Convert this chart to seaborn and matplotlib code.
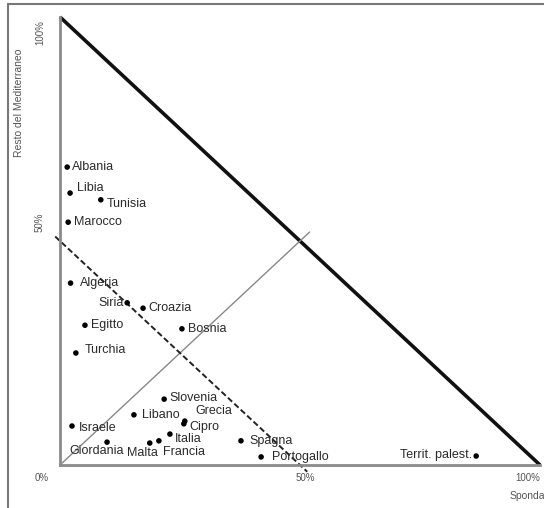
"""
Sponda vs resto del Mediterraneo: scatter dei paesi con diagonali di riferimento.
"""
import matplotlib
matplotlib.use("Agg")
import matplotlib.pyplot as plt
import seaborn as sns

# Quote (%)
countries = ["Albania", "Libia", "Tunisia", "Marocco", "Algeria", "Siria", "Croazia",
             "Egitto", "Bosnia", "Turchia", "Slovenia", "Libano", "Grecia", "Cipro",
             "Israele", "Italia", "Giordania", "Malta", "Francia", "Spagna",
             "Portogallo", "Territ. palest."]
sponda = [1.5, 2.1, 8.5, 1.7, 2.2, 14.0, 17.3, 5.2, 25.4, 3.3, 21.7, 15.4, 26.0, 25.8,
          2.5, 22.9, 9.8, 18.7, 20.6, 37.7, 41.9, 86.7]
resto_med = [66.5, 60.7, 59.2, 54.2, 40.6, 36.2, 35.0, 31.2, 30.4, 25.0, 14.7, 11.2, 9.8,
             9.2, 8.7, 6.9, 5.1, 4.9, 5.4, 5.4, 1.8, 2.0]

# linee di riferimento
limit_x, limit_y = [0, 100], [100, 0]          # sponda + resto = 100%
equal_x, equal_y = [0, 52], [0, 52]            # sponda = resto
half_x, half_y = [-1, 51.5], [51, -1.5]        # sponda + resto = 50%

x_tick_labels = ["0%", "50%", "100%"]
y_tick_labels = ["50%", "100%"]

# posizione delle etichette (offset in pixel, allineamento)
label_style = {
    "Albania": (5, 0, "left"), "Libia": (7, 5, "left"), "Tunisia": (6, -4, "left"),
    "Marocco": (6, 0, "left"), "Algeria": (9, 0, "left"), "Siria": (-3, 0, "right"),
    "Croazia": (5, 0, "left"), "Egitto": (6, 0, "left"), "Bosnia": (6, 0, "left"),
    "Turchia": (9, 3, "left"), "Slovenia": (5, 1, "left"), "Libano": (8, 0, "left"),
    "Grecia": (11, 10, "left"), "Cipro": (6, -3, "left"), "Israele": (7, -2, "left"),
    "Italia": (5, -5, "left"), "Giordania": (-10, -9, "center"),
    "Malta": (-7, -10, "center"), "Francia": (4, -11, "left"),
    "Spagna": (8, 0, "left"), "Portogallo": (11, 0, "left"),
    "Territ. palest.": (-4, 1, "right"),
}
# posizione (dati) delle etichette degli assi
x_label_pos = [(-3.8, -3), (51, -3), (97.5, -3)]
y_label_pos = [(-4.2, 54.2), (-4.2, 96.6)]

sns.set_style("white")
plt.rcParams["font.family"] = ["Liberation Sans", "DejaVu Sans"]

fig = plt.figure(figsize=(5.44, 5.08), dpi=100)
ax = fig.add_axes([60 / 544, 43 / 508, 480 / 544, 448 / 508])

# cornice dell'immagine (sinistra e alto)
fig.add_artist(plt.Line2D([8 / 544, 8 / 544], [0, 1 - 4 / 508], color="#777777", lw=1.5))
fig.add_artist(plt.Line2D([8 / 544, 1], [1 - 4 / 508, 1 - 4 / 508], color="#777777", lw=1.5))

ax.plot(limit_x, limit_y, color="#111111", lw=2.6, clip_on=False, solid_capstyle="butt")
ax.plot(equal_x, equal_y, color="#888888", lw=1.0, clip_on=False)
ax.plot(half_x, half_y, color="#222222", lw=1.4, ls=(0, (3, 1.5)), clip_on=False)

sns.scatterplot(x=sponda, y=resto_med, color="black", s=16, edgecolor="none", ax=ax,
                clip_on=False, zorder=5)

for name, xv, yv in zip(countries, sponda, resto_med):
    dx, dy, ha = label_style[name]
    ax.annotate(name, (xv, yv), xytext=(dx, dy), textcoords="offset pixels",
                ha=ha, va="center", fontsize=9, color="#2a2a2a")

ax.set_xlim(0, 100)
ax.set_ylim(0, 100)
for side in ["top", "right"]:
    ax.spines[side].set_visible(False)
for side in ["left", "bottom"]:
    ax.spines[side].set_color("#8a8a8a")
    ax.spines[side].set_linewidth(2)
ax.set_xticks([])
ax.set_yticks([])

for (xv, yv), lab in zip(x_label_pos, x_tick_labels):
    ax.text(xv, yv, lab, ha="center", va="center", fontsize=7, color="#555555",
            clip_on=False)
ax.text(97.3, -7, "Sponda", ha="center", va="center", fontsize=7.5, color="#555555",
        clip_on=False)
for (xv, yv), lab in zip(y_label_pos, y_tick_labels):
    ax.text(xv, yv, lab, ha="center", va="center", rotation=90, fontsize=7,
            color="#555555", clip_on=False)
ax.text(-8.6, 80.8, "Resto del Mediterraneo", ha="center", va="center", rotation=90,
        fontsize=7.5, color="#555555", clip_on=False)

fig.savefig("out.png", dpi=100)
